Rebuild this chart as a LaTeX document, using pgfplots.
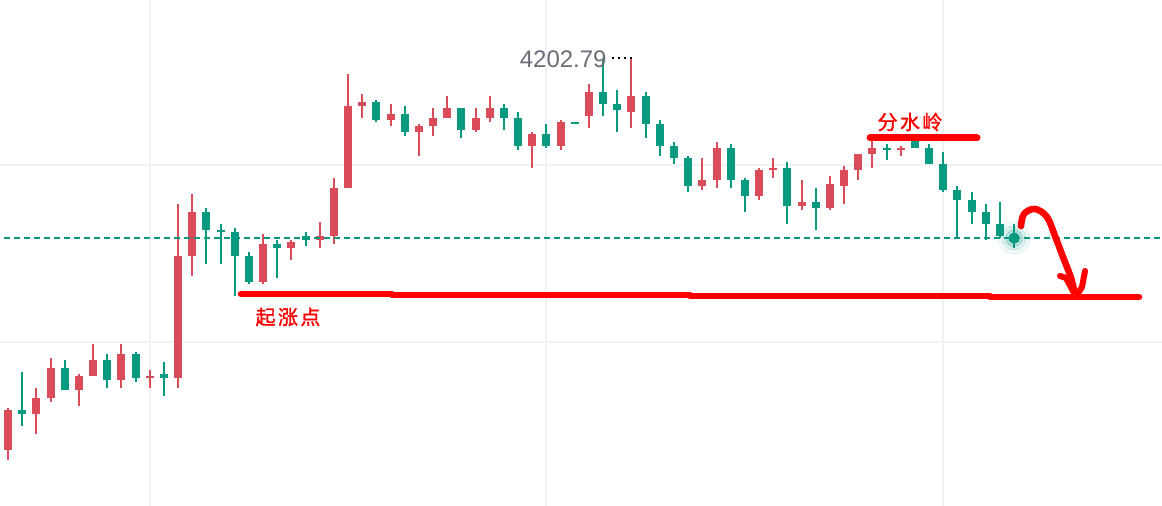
\documentclass[border=0pt]{standalone}
\usepackage{pgfplots}
\pgfplotsset{compat=1.18}
\usepackage{pgfplotstable}
\usepackage{fontspec}
\setmainfont{Liberation Sans}
\newfontfamily\cjk[LetterSpace=12, FakeBold=1.5]{Noto Sans CJK SC}
\definecolor{upred}{RGB}{219,76,91}
\definecolor{dngreen}{RGB}{8,153,129}
\definecolor{gridc}{RGB}{240,241,244}
\definecolor{lblgray}{RGB}{106,109,120}
\definecolor{pen}{RGB}{255,0,0}

% up candles (close > open), drawn red
\pgfplotstableread{
i o h l c
0 3810 3852 3800 3850
2 3846 3872 3826 3862
3 3862 3902 3858 3892
5 3870 3886 3854 3884
6 3884 3916 3884 3900
8 3880 3916 3872 3906
10 3882 3890 3872 3884
12 3882 4056 3872 4004
13 4004 4066 3984 4048
18 3978 4026 3976 4016
20 4012 4020 4000 4018
22 4020 4038 4012 4024
23 4024 4082 4016 4072
24 4072 4186 4072 4154
25 4154 4166 4142 4158
27 4140 4156 4134 4146
29 4128 4136 4104 4134
30 4134 4152 4124 4142
31 4142 4164 4142 4152
33 4130 4152 4128 4142
34 4142 4164 4138 4152
37 4114 4128 4092 4126
39 4114 4140 4110 4138
41 4144 4176 4132 4168
44 4148 4203 4132 4164
49 4074 4102 4070 4080
50 4080 4118 4072 4112
53 4064 4092 4060 4090
54 4090 4102 4082 4092
56 4054 4080 4050 4058
58 4052 4084 4050 4076
59 4074 4094 4056 4090
60 4090 4106 4080 4106
61 4106 4120 4092 4112
63 4110 4114 4104 4112
}\upT

% down candles (close < open), drawn green
\pgfplotstableread{
i o h l c
1 3850 3888 3834 3846
4 3892 3900 3870 3870
7 3900 3906 3872 3880
9 3906 3908 3878 3882
11 3886 3898 3864 3882
14 4048 4052 3996 4030
15 4030 4036 3996 4028
16 4028 4032 3964 4004
17 4004 4008 3976 3978
19 4016 4020 3982 4012
21 4024 4028 4014 4020
26 4158 4160 4138 4140
28 4146 4154 4124 4128
32 4152 4152 4122 4130
35 4152 4156 4130 4142
36 4142 4148 4110 4114
38 4126 4136 4112 4114
40 4138 4138 4136 4136
42 4168 4200 4144 4156
43 4156 4170 4128 4150
45 4164 4168 4122 4136
46 4136 4140 4104 4114
47 4114 4118 4096 4102
48 4102 4104 4068 4074
51 4112 4116 4072 4080
52 4080 4082 4048 4064
55 4092 4098 4036 4054
57 4058 4072 4030 4052
62 4112 4116 4100 4110
64 4120 4122 4112 4112
65 4112 4116 4096 4096
66 4096 4108 4068 4070
67 4070 4074 4022 4060
68 4060 4068 4036 4048
69 4048 4056 4020 4036
70 4036 4058 4022 4024
71 4024 4036 4012 4022
}\dnT

\begin{document}
\begin{tikzpicture}
\begin{axis}[
  scale only axis, width=581pt, height=253pt,
  xmin=-0.565, xmax=81.44, ymin=3754, ymax=4260,
  xtick={10,38,66}, ytick={3918,4095},
  xticklabels={}, yticklabels={},
  major tick length=0pt,
  grid=major, major grid style={draw=gridc, line width=1pt},
  axis line style={draw=none},
  candle/.style={draw=none, mark=none, forget plot,
    error bars/y dir=plus, error bars/y explicit, error bars/error mark=none},
  glow/.style={only marks, mark=*, forget plot, color=dngreen, line width=0pt},
]
% glowing last point (under the candle)
\addplot[glow, mark size=8pt, opacity=0.06] coordinates {(71,4022)};
\addplot[glow, mark size=6pt, opacity=0.10] coordinates {(71,4022)};
\addplot[glow, mark size=4.2pt, opacity=0.18] coordinates {(71,4022)};
% wicks
\addplot[candle, error bars/error bar style={draw=upred, line width=1pt}]
  table[x=i, y=l, y error plus expr=\thisrow{h}-\thisrow{l}] \upT;
\addplot[candle, error bars/error bar style={draw=dngreen, line width=1pt}]
  table[x=i, y=l, y error plus expr=\thisrow{h}-\thisrow{l}] \dnT;
% bodies
\addplot[candle, error bars/error bar style={draw=upred, line width=4pt}]
  table[x=i, y=o, y error plus expr=\thisrow{c}-\thisrow{o}] \upT;
\addplot[candle, error bars/error bar style={draw=dngreen, line width=4pt}]
  table[x=i, y=c, y error plus expr=\thisrow{o}-\thisrow{c}] \dnT;
% last price line
\draw[dngreen, line width=0.6pt, dash pattern=on 3pt off 2pt]
  (axis cs:-0.3,4022) -- (axis cs:81.44,4022);
\addplot[glow, mark size=2.6pt] coordinates {(71,4022)};
\end{axis}

% overlay in pixel coordinates for the hand-drawn annotations
\begin{axis}[
  scale only axis, width=581pt, height=253pt,
  xmin=0, xmax=1162, ymin=0, ymax=506, y dir=reverse,
  hide axis, clip=false,
]
\node[lblgray, font=\fontsize{12}{14}\selectfont, anchor=base east, inner sep=0pt]
  at (axis cs:607,68) {4202.79};
\draw[black, line width=1pt, dash pattern=on 1pt off 2pt] (axis cs:612,58) -- (axis cs:633,58);
% support line
\draw[pen, line width=3.3pt, line cap=round] (axis cs:241,294) -- (axis cs:392,294);
\draw[pen, line width=3.3pt, line cap=round] (axis cs:392,295) -- (axis cs:690,295);
\draw[pen, line width=3.3pt, line cap=round] (axis cs:690,296) -- (axis cs:990,296);
\draw[pen, line width=3.3pt, line cap=round] (axis cs:990,297) -- (axis cs:1139,297);
\node[pen, font=\cjk\fontsize{10}{12}\selectfont] at (axis cs:288,317) {起涨点};
% watershed line
\draw[pen, line width=3.5pt, line cap=round] (axis cs:870,138) -- (axis cs:977,138);
\node[pen, font=\cjk\fontsize{10}{12}\selectfont] at (axis cs:910,122) {分水岭};
% arrow
\draw[pen, line width=3.3pt, line cap=round, line join=round]
  plot[smooth, tension=0.6] coordinates {(axis cs:1021,226) (axis cs:1024,214) (axis cs:1035,209) (axis cs:1047,217) (axis cs:1055,236) (axis cs:1063,257) (axis cs:1071,278) (axis cs:1075,295)};
\draw[pen, line width=3pt, line cap=round, line join=round]
  (axis cs:1060,276) -- (axis cs:1066,278) -- (axis cs:1075,295);
\draw[pen, line width=3pt, line cap=round, line join=round]
  (axis cs:1085,271) -- (axis cs:1082,287) -- (axis cs:1077,295);
\end{axis}
\pgfresetboundingbox
\path[use as bounding box] (current axis.south west) rectangle (current axis.north east);
\end{tikzpicture}
\end{document}
